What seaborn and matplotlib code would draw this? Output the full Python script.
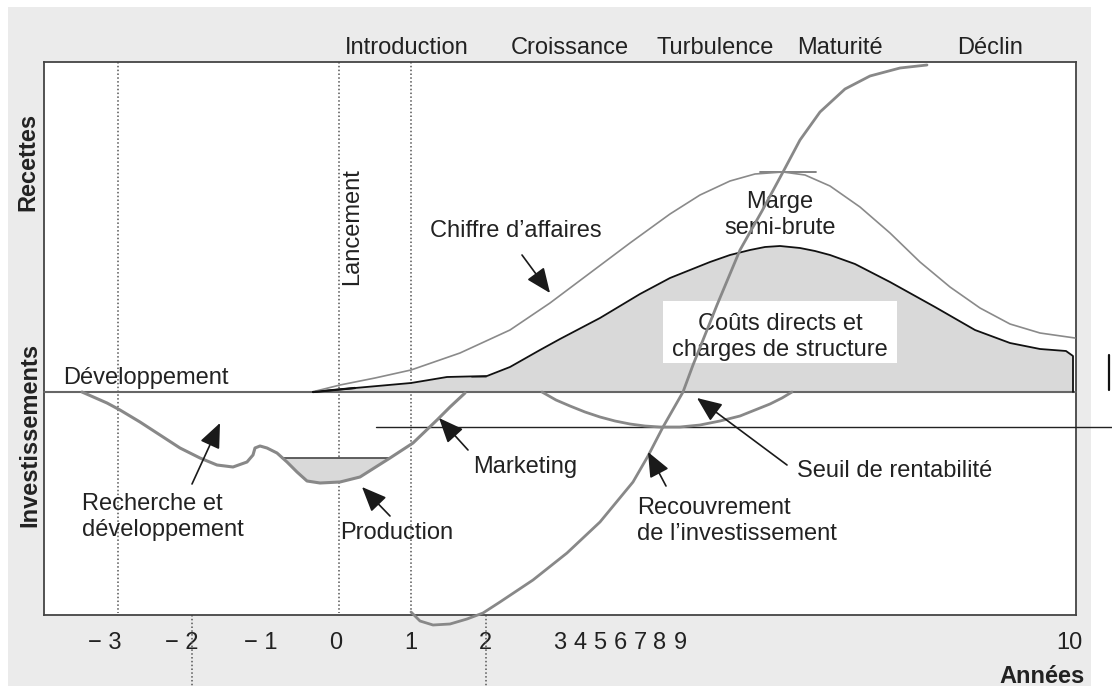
import matplotlib
matplotlib.use("Agg")
from matplotlib import pyplot as plt
from matplotlib.patches import Rectangle
import seaborn as sns

# schematic drawn in a page-like coordinate frame (x to the right, y downwards)
baseline_y = 392

# chiffre d'affaires
ca_x = [316, 340, 375, 411, 460, 510, 550, 590, 630, 670, 700, 730, 755, 783, 805, 830, 860, 890, 920, 950, 980, 1010, 1040, 1075]
ca_y = [391, 385, 378, 370, 353, 330, 303, 273, 243, 214, 195, 181, 174, 172, 175, 186, 207, 233, 262, 287, 308, 324, 333, 338]

# couts directs et charges de structure
couts_x = [313, 355, 411, 447, 487, 510, 540, 560, 600, 640, 670, 710, 730, 750, 765, 780, 800, 815, 830, 855, 890, 935, 975, 1010, 1040, 1066, 1073, 1073]
couts_y = [392, 388, 383, 377, 376, 367, 350, 339, 318, 294, 278, 262, 255, 250, 247, 246, 248, 251, 255, 264, 282, 307, 330, 343, 349, 351, 356, 392]

# recherche et developpement -> production -> marketing
rd_x = [82, 107, 120, 140, 160, 180, 200, 217, 233, 247, 253, 255, 260, 267, 277, 287, 297, 307, 320, 340, 360, 390, 413, 437, 450, 465]
rd_y = [392, 403, 410, 422, 435, 448, 458, 465, 467, 462, 455, 448, 446, 448, 453, 462, 472, 481, 483, 482, 477, 458, 443, 420, 407, 393]
prod_x = [282, 287, 297, 307, 320, 340, 360, 390]
prod_y = [458, 462, 472, 481, 483, 482, 477, 458]
prod_top = 458

# seuil de rentabilite
seuil_x = [542, 556, 570, 585, 600, 615, 630, 645, 660, 680, 700, 720, 740, 755, 770, 782, 792]
seuil_y = [392, 400, 406, 412, 417, 421, 424, 426, 427, 427, 425, 421, 416, 410, 404, 398, 392]

# recouvrement de l'investissement
rec_x = [411, 420, 433, 450, 467, 483, 500, 533, 567, 600, 633, 648, 663, 683, 693, 717, 740, 762, 783, 800, 820, 845, 870, 900, 927]
rec_y = [612, 621, 625, 624, 619, 613, 602, 580, 553, 522, 482, 456, 427, 392, 365, 305, 250, 211, 172, 140, 112, 89, 76, 68, 65]

tick_pos = [105, 182, 261, 336, 411, 485, 560, 580, 600, 620, 640, 660, 680, 1069]
tick_labels = ["\u2212 3", "\u2212 2", "\u2212 1", "0", "1", "2", "3", "4", "5", "6", "7", "8", "9", "10"]

phases = ["Introduction", "Croissance", "Turbulence", "Maturit\u00e9", "D\u00e9clin"]
phase_x = [407, 570, 715, 840, 990]

dotted_full = [118, 339, 411]
dotted_below = [192, 486]

sns.set_theme(style="white")
plt.rcParams["font.family"] = ["Liberation Sans", "DejaVu Sans"]

fig = plt.figure(figsize=(11.12, 6.86), dpi=100)
fig.patch.set_facecolor("white")
fig.add_artist(Rectangle((8 / 1112, 0), (1091 - 8) / 1112, (686 - 7) / 686,
                         transform=fig.transFigure, facecolor="#ebebeb",
                         edgecolor="none", zorder=-1))
ax = fig.add_axes([44 / 1112, (686 - 615) / 686, 1032 / 1112, 553 / 686])
ax.set_facecolor("white")
ax.set_xlim(44, 1076)
ax.set_ylim(615, 62)
for s in ax.spines.values():
    s.set_color("#444444")
    s.set_linewidth(1.3)
ax.set_yticks([])
ax.set_xticks(tick_pos, tick_labels)
ax.tick_params(axis="x", length=0, pad=12, labelsize=17, labelcolor="#222222")

txt = dict(fontsize=17, color="#222222")

# dotted year lines
for x in dotted_full:
    ax.plot([x, x], [62, 613], color="#555555", lw=1.1, ls=(0, (1, 1.5)), zorder=1)
for x in dotted_below:
    ax.plot([x, x], [615, 686], color="#555555", lw=1.1, ls=(0, (1, 1.5)), zorder=1, clip_on=False)

# fills
ax.fill_between(couts_x, couts_y, baseline_y, color="#d9d9d9", lw=0, zorder=1)
ax.fill_between(prod_x, prod_y, prod_top, color="#d9d9d9", lw=0, zorder=1)
ax.add_patch(Rectangle((663, 301), 234, 62, facecolor="white", edgecolor="none", zorder=2))

# lines
ax.plot([44, 1076], [baseline_y, baseline_y], color="#666666", lw=1.5, zorder=3)
ax.plot([376, 1112], [427, 427], color="#222222", lw=1.0, zorder=3, clip_on=False)
ax.plot([1109, 1109], [355, 390], color="#111111", lw=1.6, zorder=3, clip_on=False)
ax.plot([prod_x[0], prod_x[-1]], [prod_top, prod_top], color="#444444", lw=1.2, zorder=3)
ax.plot([760, 816], [172, 172], color="#777777", lw=1.3, zorder=3)
ax.plot([472, 486], [377, 377], color="#777777", lw=1.3, zorder=3)
ax.plot([313, 355], [392, 388], color="#111111", lw=1.6, zorder=3)

sns.lineplot(x=ca_x, y=ca_y, sort=False, estimator=None, ax=ax, color="#8a8a8a", lw=1.2, zorder=4)
sns.lineplot(x=couts_x, y=couts_y, sort=False, estimator=None, ax=ax, color="#111111", lw=1.3, zorder=4)
sns.lineplot(x=rd_x, y=rd_y, sort=False, estimator=None, ax=ax, color="#888888", lw=2.2, zorder=4)
sns.lineplot(x=seuil_x, y=seuil_y, sort=False, estimator=None, ax=ax, color="#888888", lw=2.0, zorder=4)
sns.lineplot(x=rec_x, y=rec_y, sort=False, estimator=None, ax=ax, color="#888888", lw=2.0, zorder=4)
for ln in ax.lines:
    ln.set_clip_on(False)
    ln.set_solid_joinstyle("round")
ax.set_xlabel("")
ax.set_ylabel("")

# arrows
arrows = [((522, 255), (550, 293)), ((192, 484), (220, 423)), ((390, 516), (362, 487)),
          ((468, 450), (439, 418)), ((666, 486), (648, 452)), ((787, 465), (697, 398))]
for start, tip in arrows:
    ax.annotate("", xy=tip, xytext=start,
                arrowprops=dict(arrowstyle="-|>,head_length=0.9,head_width=0.38",
                                color="#1a1a1a", lw=1.2, shrinkA=0, shrinkB=0,
                                mutation_scale=17), zorder=5)

# texts
for name, x in zip(phases, phase_x):
    ax.text(x, 48, name, ha="center", va="center", clip_on=False, **txt)
ax.text(28, 162, "Recettes", rotation=90, ha="center", va="center", fontweight="bold", clip_on=False, **txt)
ax.text(30, 435, "Investissements", rotation=90, ha="center", va="center", fontweight="bold", clip_on=False, **txt)
ax.text(1085, 683, "Ann\u00e9es", ha="right", va="baseline", fontweight="bold", clip_on=False, **txt)
ax.text(352, 227, "Lancement", rotation=90, ha="center", va="center", **txt)
ax.text(63, 378, "D\u00e9veloppement", ha="left", va="center", **txt)
ax.text(82, 517, "Recherche et\nd\u00e9veloppement", ha="left", va="center", linespacing=1.25, **txt)
ax.text(340, 533, "Production", ha="left", va="center", **txt)
ax.text(473, 467, "Marketing", ha="left", va="center", **txt)
ax.text(637, 521, "Recouvrement\nde l\u2019investissement", ha="left", va="center", linespacing=1.25, **txt)
ax.text(797, 471, "Seuil de rentabilit\u00e9", ha="left", va="center", **txt)
ax.text(516, 231, "Chiffre d\u2019affaires", ha="center", va="center", **txt)
ax.text(780, 215, "Marge\nsemi-brute", ha="center", va="center", linespacing=1.25, zorder=3, **txt)
ax.text(780, 337, "Co\u00fbts directs et\ncharges de structure", ha="center", va="center", linespacing=1.25, zorder=3, **txt)

plt.savefig("out.png", dpi=100)
